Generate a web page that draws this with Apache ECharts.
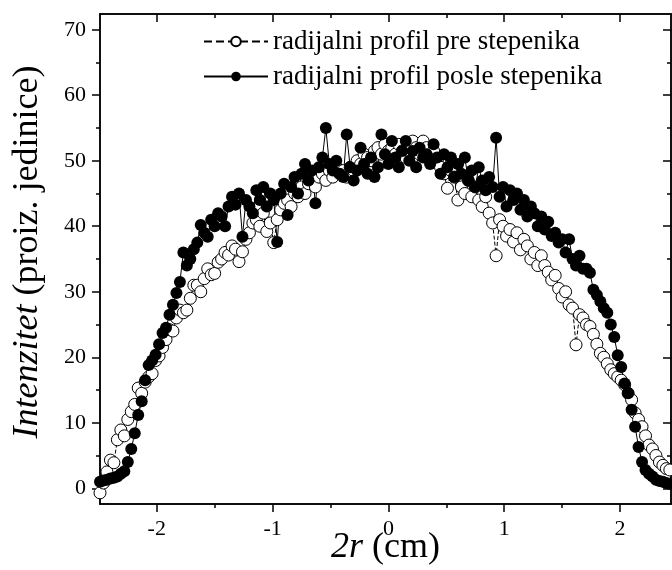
<!DOCTYPE html>
<html>
<head>
<meta charset="utf-8">
<script src="https://cdn.jsdelivr.net/npm/echarts@6/dist/echarts.min.js"></script>
<style>html,body{margin:0;padding:0;background:#fff}#c{width:672px;height:570px}</style>
</head>
<body>
<div id="c"></div>
<script>
const xValues = [-2.49,-2.46,-2.43,-2.40,-2.37,-2.34,-2.31,-2.28,-2.25,-2.22,-2.19,-2.16,-2.13,-2.10,-2.07,-2.04,-2.01,-1.98,-1.95,-1.92,-1.89,-1.86,-1.83,-1.80,-1.77,-1.74,-1.71,-1.68,-1.65,-1.62,-1.59,-1.56,-1.53,-1.50,-1.47,-1.44,-1.41,-1.38,-1.35,-1.32,-1.29,-1.26,-1.23,-1.20,-1.17,-1.14,-1.11,-1.08,-1.05,-1.02,-0.99,-0.96,-0.93,-0.90,-0.87,-0.84,-0.81,-0.78,-0.75,-0.72,-0.69,-0.66,-0.63,-0.60,-0.57,-0.54,-0.51,-0.48,-0.45,-0.42,-0.39,-0.36,-0.33,-0.30,-0.27,-0.24,-0.21,-0.18,-0.15,-0.12,-0.09,-0.06,-0.03,0.00,0.03,0.06,0.09,0.12,0.15,0.18,0.21,0.24,0.27,0.30,0.33,0.36,0.39,0.42,0.45,0.48,0.51,0.54,0.57,0.60,0.63,0.66,0.69,0.72,0.75,0.78,0.81,0.84,0.87,0.90,0.93,0.96,0.99,1.02,1.05,1.08,1.11,1.14,1.17,1.20,1.23,1.26,1.29,1.32,1.35,1.38,1.41,1.44,1.47,1.50,1.53,1.56,1.59,1.62,1.65,1.68,1.71,1.74,1.77,1.80,1.83,1.86,1.89,1.92,1.95,1.98,2.01,2.04,2.07,2.10,2.13,2.16,2.19,2.22,2.25,2.28,2.31,2.34,2.37,2.40,2.43];

const preValues = [-0.7,0.8,2.5,4.3,3.9,7.4,8.9,8.0,10.5,11.7,12.8,15.3,14.5,16.2,17.0,17.5,19.5,20.2,21.5,22.7,24.2,24.0,26.0,27.2,26.8,27.2,29.0,31.0,31.0,30.0,32.0,33.5,32.6,32.8,34.5,35.0,36.0,35.6,37.0,36.5,34.6,36.1,38.0,39.0,40.5,41.0,40.0,42.0,39.2,40.5,37.5,41.0,42.5,43.5,44.0,43.0,45.0,44.5,46.0,45.0,46.5,47.0,46.0,47.5,48.0,47.0,48.5,47.5,49.0,48.0,48.5,47.5,49.0,48.5,50.0,49.5,51.0,50.5,50.0,51.5,52.0,51.0,52.5,51.5,52.0,51.0,52.5,51.5,50.5,52.0,53.0,52.0,51.0,53.0,52.0,50.5,51.5,50.0,49.0,48.0,45.8,48.5,47.5,44.0,46.0,45.0,47.0,44.5,46.0,44.0,43.0,44.5,42.0,40.5,35.5,41.0,40.0,38.5,39.5,37.6,39.0,36.4,38.0,37.0,35.0,36.0,34.0,35.5,34.0,33.0,31.8,32.5,30.5,29.2,30.0,28.0,27.5,21.9,26.5,26.0,25.0,24.7,23.5,22.0,20.6,20.0,19.0,18.1,17.5,17.0,16.5,15.8,14.5,13.5,11.5,10.5,9.4,8.0,6.6,6.0,5.0,4.0,3.5,3.0,2.8];

const postValues = [1.0,1.2,1.3,1.5,1.6,1.8,2.2,2.6,4.0,6.0,8.4,11.2,13.3,16.5,18.8,19.5,20.4,22.0,23.7,24.5,26.5,28.0,29.8,31.5,36.0,34.0,35.0,36.5,37.5,40.2,39.0,38.4,41.0,40.0,42.0,41.5,40.0,43.0,44.5,43.3,45.0,38.4,44.0,43.0,42.0,45.5,44.0,46.0,43.0,45.0,44.0,37.6,45.0,46.5,41.7,46.0,47.5,45.0,48.0,49.5,47.0,48.5,43.5,49.0,50.5,55.0,49.5,48.5,50.0,48.0,47.5,54.0,49.0,47.0,48.5,52.0,49.5,48.0,50.5,47.5,49.0,54.0,51.0,49.5,53.0,50.5,49.0,51.5,53.0,50.0,51.5,49.0,52.0,50.5,51.0,49.5,52.5,50.5,48.0,51.0,49.0,50.5,47.5,49.5,48.0,50.5,47.0,48.5,46.0,49.0,47.0,45.5,47.5,46.0,53.5,44.5,46.0,43.0,45.5,44.0,45.0,42.5,44.0,41.5,43.0,42.0,40.0,41.5,39.5,40.7,38.5,39.0,37.5,38.0,36.0,38.0,35.0,34.0,35.5,33.5,33.5,32.9,30.3,29.5,28.5,27.5,26.8,25.0,23.1,20.3,18.5,16.0,14.5,12.0,9.4,6.3,4.0,2.8,2.2,1.8,1.3,1.1,1.0,0.8,0.7];

const xMajorTicks = [-2, -1, 0, 1, 2];
const xMinorTicks = [-1.5, -0.5, 0.5, 1.5];
const yMajorTicks = [0, 10, 20, 30, 40, 50, 60, 70];
const yMinorTicks = [5, 15, 25, 35, 45, 55, 65];

const seriesNames = ['radijalni profil pre stepenika', 'radijalni profil posle stepenika'];

const FONT = 'Liberation Serif';
const X_MIN = -2.49, X_MAX = 2.44, Y_MIN = -2.4, Y_MAX = 72.4;

function pairs(xs, ys) { return xs.map((x, i) => [x, ys[i]]); }

const axisLine = { show: true, onZero: false, lineStyle: { color: '#000', width: 1.5 } };
function axisDef(position, min, max, ticks, len, inside, labels) {
  return {
    type: 'value', position: position, min: min, max: max,
    axisLine: axisLine,
    axisTick: { show: true, customValues: ticks, length: len, inside: inside, lineStyle: { color: '#000', width: 1.5 } },
    axisLabel: labels ? { show: true, customValues: ticks, margin: 14, color: '#000', fontFamily: FONT, fontSize: 22,
      formatter: v => String(v) } : { show: false },
    splitLine: { show: false }
  };
}

const titleRich = { i: { fontFamily: FONT, fontSize: 36, fontStyle: 'italic', color: '#000' } };
const xAxes = [
  Object.assign(axisDef('bottom', X_MIN, X_MAX, xMajorTicks, 8, false, true), {
    name: '{i|2r} (cm)', nameLocation: 'middle', nameGap: 26, nameMoveOverlap: false,
    nameTextStyle: { fontFamily: FONT, fontSize: 36, color: '#000', rich: titleRich }
  }),
  axisDef('bottom', X_MIN, X_MAX, xMinorTicks, 4, false, false),
  axisDef('top', X_MIN, X_MAX, xMajorTicks, 8, true, false),
  axisDef('top', X_MIN, X_MAX, xMinorTicks, 4, true, false)
];
const yAxes = [
  Object.assign(axisDef('left', Y_MIN, Y_MAX, yMajorTicks, 8, false, true), {
    name: '{i|Intenzitet} (proiz. jedinice)', nameLocation: 'middle', nameGap: 54,
    nameTextStyle: { fontFamily: FONT, fontSize: 36, color: '#000', padding: [0, 0, 0, 14], rich: titleRich }
  }),
  axisDef('left', Y_MIN, Y_MAX, yMinorTicks, 4, false, false),
  axisDef('right', Y_MIN, Y_MAX, yMajorTicks, 8, true, false),
  axisDef('right', Y_MIN, Y_MAX, yMinorTicks, 4, true, false)
];

const chart = echarts.init(document.getElementById('c'), null, { renderer: 'canvas' });
chart.setOption({
  animation: false,
  backgroundColor: '#fff',
  grid: { left: 100, right: 1, top: 14, bottom: 66, containLabel: false, outerBoundsMode: 'none' },
  xAxis: xAxes,
  yAxis: yAxes,
  legend: {
    orient: 'vertical', left: 198, top: 23, itemWidth: 64, itemHeight: 12, itemGap: 8,
    data: seriesNames,
    textStyle: { fontFamily: FONT, fontSize: 27, color: '#000' }
  },
  series: [
    {
      name: seriesNames[0], type: 'line', xAxisIndex: 0, yAxisIndex: 0,
      data: pairs(xValues, preValues),
      symbol: 'circle', symbolSize: 12,
      itemStyle: { color: '#fff', borderColor: '#000', borderWidth: 1 },
      lineStyle: { color: '#000', width: 1, type: 'dashed' }
    },
    {
      name: seriesNames[1], type: 'line', xAxisIndex: 0, yAxisIndex: 0,
      data: pairs(xValues, postValues),
      symbol: 'circle', symbolSize: 12,
      itemStyle: { color: '#000', borderColor: '#000', borderWidth: 0 },
      lineStyle: { color: '#000', width: 1, type: 'solid' }
    }
  ]
});
</script>
</body>
</html>
